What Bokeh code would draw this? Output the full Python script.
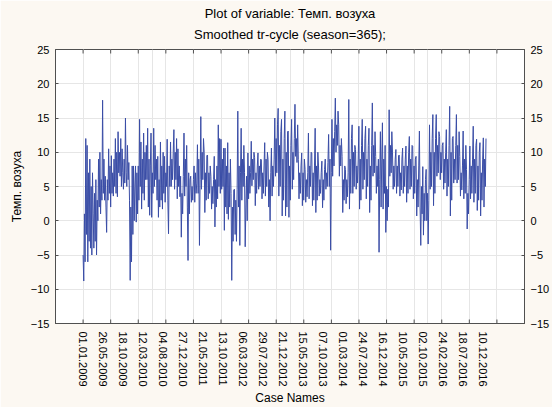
import numpy as np
from bokeh.plotting import figure
from bokeh.models import Range1d, LinearAxis, FixedTicker, Grid, Title
from bokeh.embed import file_html
from bokeh.resources import INLINE

title_text = "Plot of variable: Темп. возуха"
subtitle_text = "Smoothed tr-cycle (season=365);"
y_label = "Темп. возуха"
x_label = "Case Names"

case_labels = ["01.01.2009", "26.05.2009", "18.10.2009", "12.03.2010", "04.08.2010",
               "27.12.2010", "21.05.2011", "13.10.2011", "06.03.2012", "29.07.2012",
               "21.12.2012", "15.05.2013", "07.10.2013", "01.03.2014", "24.07.2014",
               "16.12.2014", "10.05.2015", "02.10.2015", "24.02.2016", "18.07.2016",
               "10.12.2016"]
case_step = 145
n_days = 2922
y_ticks = [-15, -10, -5, 0, 5, 10, 15, 20, 25]
x_grid = list(range(-200, 3201, 200))

temp_a = [-5, -8.8, 1, -6, 12, -2, 11, -6, 7, -3, 9, -4, 5, -5, 7, 1, -4, 4, -3, 6,
          -5, 3, 0, 9, 2, 10, 1, 6, 3, 17.6, 4, 9, 3, 6.5, 2, -1.7, 6, 3, 10.5, 4,
          8, 2, 9.5, 4, 7, 3.6, 9, 5, 12, 4, 10, 3.5, 13, 7, 10, 6.5, 12, 5, 10.5, 7,
          4.6, 9, 5.5, 15, 7, 5, 11, 6, 8.5, 3, -8.7, 2, -6, 8, -2, 8, 0, 5, 8, -0.2,
          7, 1, 8, 3, 14.8, 5, 11.5, 1.7, 9, 4, 12.8, 3, 10, 6, 11]
temp_b = [6, 13.5, 2, 9, 0.8, 8, 12.8, 0.5, 7, 4, 13.5, 5, 11, 6, 9, 3, 9.4, 0.5, 6, 2,
          11.5, 3, 8, 1.7, 10, 4, 9.4, 2.7, 7, 5, 11.9, 3, -1.9, 8, 5, 11.5, 5, 9, 6, 10,
          13.3, 4.6, 10, 6, 12, 3.2, 10.5, 5, 8, 3.5, 6.5, -2.4, 4, 1, 6.5, 12.8, 3.6, 9, 5, 11,
          2, -5.8, 7, 1, 6, 6.5, 2.7, 5, 3, 6, 8, 2.7, 7, 4, 5.5, 11.1, 4, 9, -3.6, 6,
          15.2, 4.6, 10, 6, 12, 10, 1.2, 7, 3, 9.5, 9.6, 3.2, 7, 4, 8, 6.5, 1.7, 5, 2.5, 6]
temp_c = [9.4, -0.9, 6, 2, 8, 3.2, 14, 5, 12, 4, 11.9, 4.6, 9, 5, 10.6, -1.4, 10.6, 2, 8, 1,
          11.4, 0.2, 7, 2, 9, 4, -8.7, 2, -3, 4.5, 4.6, -2, 3, -3, 4.6, 16, 2, 8, -3.6, 7,
          13.5, 3, 9, 5, 11, 7, -3.8, 2, 6.5, 0, 9.9, 3.2, 8, 4, 7, 11.6, 5.1, 9, 6, 10,
          9.2, 2.2, 7, 4, 8, 9.9, 4.6, 8, 5, 9, 8.9, 3.2, 7, 4, 8, 11.4, 3.6, 9, 5, 10,
          8.9, 2, 6, 0, 7, 10.6, 3.6, 8, 5, 9, 15, 6.5, 12, 7, 14, 16.4, 3.6, 11, 5, 13]
temp_d = [14.8, 0.7, 9, 3, 12, 16, 0.7, 10, 2, 13, 13.1, 0.5, 8, 3, 11, 14.8, 4.6, 10, 6, 12,
          17, 9.4, 12, 8.5, 14, 8.9, 3.2, 7, 4, 8, 9.9, 2.2, 7, 3, 9, 7.5, 2.7, 6, 3.5, 7,
          12.8, 3.2, 8, 5, 10, 9.9, 2.2, 7, 3, 8, 13.5, 1.2, 8, 3, 10, 8, 3.6, 6, 4, 7,
          8.7, 1.9, 6, 3, 7.5, 9, 4.6, 7, 5, 8.5, 12.6, 5, 9, -4.3, 7, 14.8, 6.5, 12, 8, 13,
          17.9, 10, 14, 11, 16, 14, 6.5, 11, 8, 12, 9.4, 1.2, 6, 3, 8, 7.5, 2.5, 6, 3.5, 7]
temp_e = [17.7, 1.7, 9, 4, 12, 14, 4, 10, 5, 11, 10.4, 4.6, 8, 5.5, 9, 13.8, 1.7, 9, 3, 11,
          14.8, 4.6, 10, 6, 12, 13.8, 3.2, 9, 5, 11, 13.5, 1.2, 8, 3, 11, 17.2, 6.5, 11, 7, 13,
          9.4, 4, 8, 5, 9, -4.6, 6, 13, 2, 9, 14.3, 1.7, 9, 4, 11, -1.7, 5, 0, 4.6, 2,
          16.2, 6.5, 11, 7, 13, 9.9, 4.6, 8, 5, 9, 10.4, 4, 8, 5, 9.5, 9.6, 3.6, 7, 4.5, 9,
          10.6, 4, 8, 5, 9, 10.9, 2.7, 8, 4, 10, 12.3, 4.6, 9, 5, 11, 10.9, 3.2, 8, 4, 9]
temp_f = [9.4, 0.7, 6, 2, 8, 13.1, 2, -3.6, 5, 1, 7.9, -2.1, 4, 0, 6, 7.5, 0, 4, -3.4, 3,
          14, 4.6, 10, 5, 12, 15.5, 2.2, 10, 4, 12, 15.5, 6.5, 11, 7, 13, 12.3, 6, 10, 7, 11,
          11.4, 4.6, 9, 5.5, 10, 13.3, 3.6, 9, 5, 11, 16.7, 0.7, 10, 3, 12, 12.3, 5.5, 9, 6, 11,
          15.5, 5.5, 11, 6, 13, 9.4, 3.6, 7, 4.5, 8, 13.1, 3.2, 9, 4, 11, 7.5, -1.2, 4, 1, 6,
          10.9, 3.2, 8, 4, 9, 13.8, 2.7, 9, 4, 11, 11.9, 1.5, 8, 3, 10, 11.4, 0.7, 7, 3, 9,
          12.1, 2, 9, 5, 12]

values = np.array(temp_a + temp_b + temp_c + temp_d + temp_e + temp_f, dtype=float)
days = np.linspace(0, n_days - 1, len(values))

cream = "#FCF8F2"
frame_col = "#505050"
font = "Liberation Sans"

p = figure(width=552, height=407, output_backend="svg", toolbar_location=None,
           x_range=Range1d(-200, 3200), y_range=Range1d(-15, 25),
           x_axis_location=None, y_axis_location=None, title=None,
           min_border_left=55, min_border_right=27, min_border_top=49, min_border_bottom=83)
p.background_fill_color = "white"
p.border_fill_color = cream
p.outline_line_color = frame_col
p.outline_line_width = 1

p.add_layout(Grid(dimension=0, ticker=FixedTicker(ticks=x_grid), grid_line_color="#E6E6E6"))
p.add_layout(Grid(dimension=1, ticker=FixedTicker(ticks=y_ticks), grid_line_color="#E6E6E6"))

# inward tick marks on the top and bottom frame edges, at the grid positions
for edge in (y_ticks[0], y_ticks[-1]):
    p.scatter(x_grid, [edge] * len(x_grid), marker="dash", angle=np.pi / 2, size=8,
              line_color=frame_col, line_width=1)

p.add_layout(Title(text=subtitle_text, align="center", text_font=font, text_font_size="13px",
                   text_font_style="normal", text_color="black", standoff=15), "above")
p.add_layout(Title(text=title_text, align="center", text_font=font, text_font_size="13px",
                   text_font_style="normal", text_color="black", standoff=-7), "above")

label_ticks = [i * case_step for i in range(len(case_labels))]
xlab_axis = LinearAxis(ticker=FixedTicker(ticks=label_ticks),
                       major_label_overrides={t: s for t, s in zip(label_ticks, case_labels)},
                       major_tick_in=0, major_tick_out=0, major_tick_line_color=None,
                       minor_tick_line_color=None, axis_line_color=frame_col,
                       major_label_orientation="vertical", major_label_standoff=8,
                       major_label_text_font=font, major_label_text_font_size="11px",
                       major_label_text_color="black",
                       axis_label=x_label, axis_label_text_font=font,
                       axis_label_text_font_size="12px", axis_label_text_font_style="normal",
                       axis_label_text_color="black", axis_label_standoff=1)
p.add_layout(xlab_axis, "below")

def y_axis(label=None):
    ax = LinearAxis(ticker=FixedTicker(ticks=y_ticks), major_tick_in=3, major_tick_out=0,
                    minor_tick_line_color=None, axis_line_color=frame_col,
                    major_tick_line_color=frame_col, major_label_standoff=6,
                    major_label_text_font=font, major_label_text_font_size="11px",
                    major_label_text_color="black")
    if label:
        ax.axis_label = label
        ax.axis_label_text_font = font
        ax.axis_label_text_font_size = "12px"
        ax.axis_label_text_font_style = "normal"
        ax.axis_label_text_color = "black"
        ax.axis_label_standoff = 4
    return ax

p.add_layout(y_axis(y_label), "left")
p.add_layout(y_axis(), "right")

p.line(days, values, line_color="#3A4DA6", line_width=1)

html = file_html(p, INLINE)
html = html.replace("<body>", '<body style="background-color:%s">' % cream, 1)
open("out.html", "w").write(html)
